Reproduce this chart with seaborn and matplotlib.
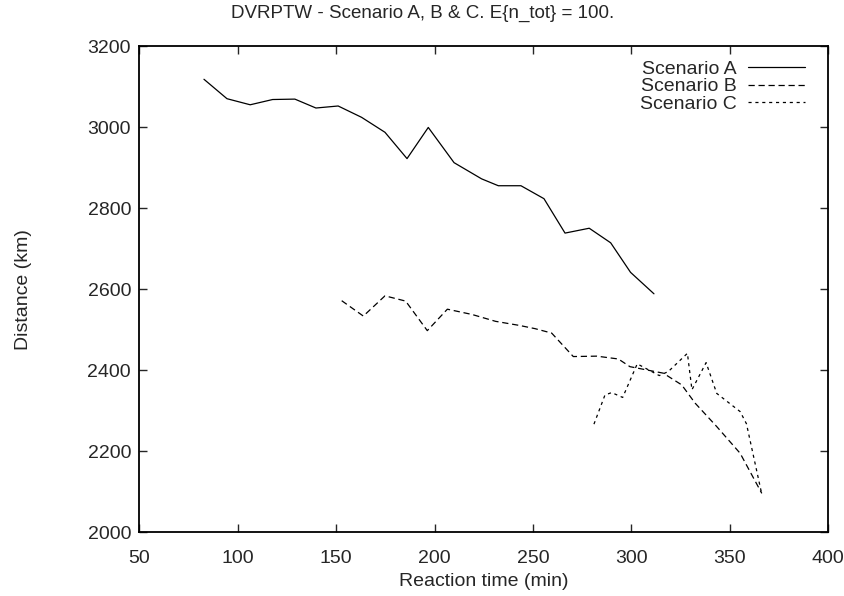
import matplotlib
matplotlib.use("Agg")
import matplotlib.pyplot as plt
import seaborn as sns
import pandas as pd

# Scenario A
a_time = [82.8, 94.5, 106.3, 117.7, 129.0, 139.7, 151.0, 162.9, 174.8, 186.0, 196.8,
          209.9, 223.9, 232.4, 243.9, 255.6, 266.3, 278.6, 289.5, 299.6, 311.5]
a_dist = [3119, 3071, 3056, 3069, 3070, 3048, 3053, 3025, 2988, 2923, 3000,
          2913, 2873, 2856, 2856, 2824, 2739, 2751, 2715, 2642, 2589]

# Scenario B
b_time = [152.8, 163.8, 174.8, 185.3, 196.3, 206.5, 219.0, 231.0, 243.0, 251.0, 259.5,
          270.5, 282.4, 293.4, 299.3, 316.2, 325.6, 332.4, 343.4, 355.3, 366.3]
b_dist = [2572, 2534, 2584, 2571, 2498, 2551, 2538, 2521, 2511, 2503, 2492,
          2434, 2435, 2428, 2409, 2393, 2364, 2319, 2261, 2195, 2096]

# Scenario C
c_time = [281.0, 286.6, 290.0, 295.6, 303.0, 314.2, 318.8, 328.5, 330.8, 338.0,
          343.4, 355.3, 358.5, 366.3]
c_dist = [2267, 2339, 2345, 2333, 2416, 2387, 2397, 2442, 2352, 2419,
          2343, 2298, 2268, 2094]

sns.set_style("ticks")
plt.rcParams['font.family'] = ['Liberation Sans', 'DejaVu Sans']

fig = plt.figure(figsize=(8.45, 5.96), dpi=100)
ax = fig.add_axes([0.165, 0.107, 0.815, 0.815])

sns.lineplot(x=a_time, y=a_dist, color='black', lw=0.9, sort=False, errorbar=None,
             label='Scenario A', ax=ax)
sns.lineplot(x=b_time, y=b_dist, color='black', lw=0.9, sort=False, errorbar=None,
             linestyle=(0, (5, 3)), label='Scenario B', ax=ax)
sns.lineplot(x=c_time, y=c_dist, color='black', lw=0.9, sort=False, errorbar=None,
             linestyle=(0, (2.5, 3)), label='Scenario C', ax=ax)

ax.set_xlim(50, 400)
ax.set_ylim(2000, 3200)
ax.set_xticks(range(50, 401, 50))
ax.set_yticks(range(2000, 3201, 200))
ax.tick_params(direction='in', top=True, right=True, length=6, width=1,
               labelsize=14)
ax.tick_params(axis='x', pad=13)
ax.tick_params(axis='y', pad=6)
for s in ax.spines.values():
    s.set_linewidth(1.3)
    s.set_color('black')

# title is centred on the whole figure, not on the axes
fig.suptitle("DVRPTW - Scenario A, B & C. E{n_tot} = 100.", fontsize=13.5,
             x=0.5, y=0.977, va='center')
ax.set_xlabel("Reaction time (min)", fontsize=14, labelpad=4)
ax.set_ylabel("Distance (km)", fontsize=14, labelpad=40)

ax.legend(loc='upper right', bbox_to_anchor=(0.9855, 1.0), frameon=False,
          markerfirst=False, fontsize=14, handlelength=2.9, labelspacing=0.0,
          borderaxespad=0.3, handletextpad=0.6)

fig.savefig("out.png", dpi=100)
